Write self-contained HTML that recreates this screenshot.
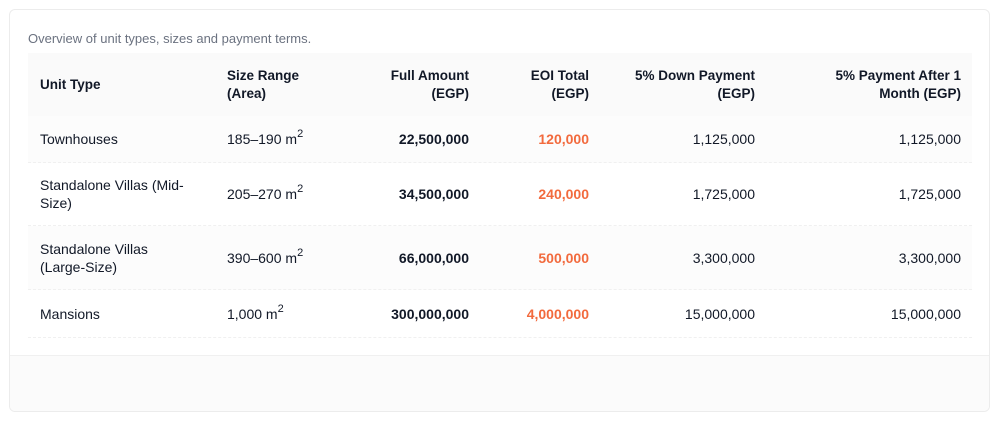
<!DOCTYPE html>
<html><head><style>
*{margin:0;padding:0;box-sizing:border-box}
body{width:999px;height:423px;background:#fff;font-family:"Liberation Sans",sans-serif;position:relative;overflow:hidden;color:#111827}
.card{position:absolute;left:9px;top:9px;width:981px;height:403px;border:1px solid #ececec;border-radius:6px;background:#fff;overflow:hidden}
.foot{position:absolute;left:0;right:0;top:345px;bottom:0;background:#fbfbfb;border-top:1px solid #f0f0f0}
.cap{position:absolute;left:18px;top:21px;font-size:13px;color:#6b7280}
.row{position:absolute;left:18px;width:944px;border-bottom:1px dashed #f0f0f0}
.c{position:absolute;top:50%;transform:translateY(-50%);font-size:14px;line-height:18px}
.h{font-weight:bold;font-size:13.5px}
.r{text-align:right}
.b{font-weight:bold}
.o{color:#f26a3d;font-weight:bold}
sup{font-size:11px;vertical-align:7px;line-height:0}
</style></head><body>
<div class="card">
<div class="cap">Overview of unit types, sizes and payment terms.</div>
<div class="row" style="top:43px;height:63px;background:#fafafa;border:none">
 <div class="c h" style="left:12px">Unit Type</div>
 <div class="c h" style="left:199px">Size Range<br>(Area)</div>
 <div class="c h r" style="right:503px">Full Amount<br>(EGP)</div>
 <div class="c h r" style="right:383px">EOI Total<br>(EGP)</div>
 <div class="c h r" style="right:217px">5% Down Payment<br>(EGP)</div>
 <div class="c h r" style="right:11px">5% Payment After 1<br>Month (EGP)</div>
</div>
<div class="row" style="top:106px;height:47px;background:#fcfcfc">
 <div class="c" style="left:12px">Townhouses</div>
 <div class="c" style="left:199px">185–190 m<sup>2</sup></div>
 <div class="c r b" style="right:503px">22,500,000</div>
 <div class="c r o" style="right:383px">120,000</div>
 <div class="c r" style="right:217px">1,125,000</div>
 <div class="c r" style="right:11px">1,125,000</div>
</div>
<div class="row" style="top:153px;height:63px">
 <div class="c" style="left:12px">Standalone Villas (Mid-<br>Size)</div>
 <div class="c" style="left:199px">205–270 m<sup>2</sup></div>
 <div class="c r b" style="right:503px">34,500,000</div>
 <div class="c r o" style="right:383px">240,000</div>
 <div class="c r" style="right:217px">1,725,000</div>
 <div class="c r" style="right:11px">1,725,000</div>
</div>
<div class="row" style="top:216px;height:64px;background:#fcfcfc">
 <div class="c" style="left:12px">Standalone Villas<br>(Large-Size)</div>
 <div class="c" style="left:199px">390–600 m<sup>2</sup></div>
 <div class="c r b" style="right:503px">66,000,000</div>
 <div class="c r o" style="right:383px">500,000</div>
 <div class="c r" style="right:217px">3,300,000</div>
 <div class="c r" style="right:11px">3,300,000</div>
</div>
<div class="row" style="top:280px;height:48px">
 <div class="c" style="left:12px">Mansions</div>
 <div class="c" style="left:199px">1,000 m<sup>2</sup></div>
 <div class="c r b" style="right:503px">300,000,000</div>
 <div class="c r o" style="right:383px">4,000,000</div>
 <div class="c r" style="right:217px">15,000,000</div>
 <div class="c r" style="right:11px">15,000,000</div>
</div>
<div class="foot"></div>
</div>
</body></html>
